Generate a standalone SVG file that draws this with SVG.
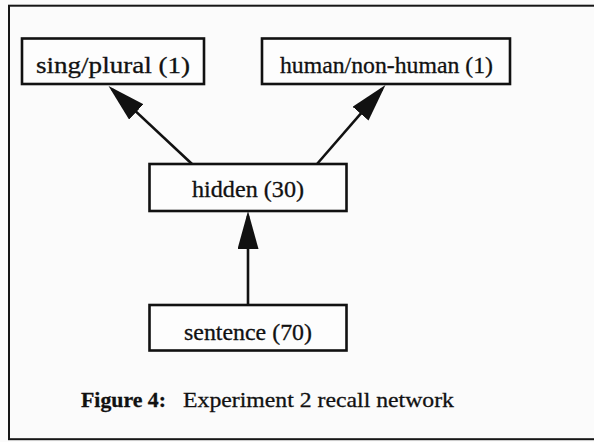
<svg xmlns="http://www.w3.org/2000/svg" width="594" height="442" viewBox="0 0 594 442">
  <defs>
    <style>
      .frame { fill: none; stroke: #161616; stroke-width: 2; }
      .box { fill: #fdfdfd; stroke: #111; stroke-width: 2.6; }
      .label { font-family: "Liberation Serif", "Times New Roman", serif; font-size: 23px; fill: #111; stroke: #111; stroke-width: 0.3; }
      .caption { font-family: "Liberation Serif", "Times New Roman", serif; font-size: 22px; fill: #111; stroke: #111; stroke-width: 0.3; }
      .bold { font-weight: bold; }
      .edge { fill: none; stroke: #111; stroke-width: 2.6; marker-end: url(#head); }
    </style>
    <marker id="head" markerUnits="userSpaceOnUse" markerWidth="40" markerHeight="22" refX="33" refY="10.5" orient="auto">
      <path d="M0,0 L38,10.5 L0,21 Z" fill="#111"/>
    </marker>
  </defs>

  <rect width="594" height="442" fill="#fbfbfb"/>

  <!-- figure frame (right side runs past the page edge) -->
  <rect class="frame" x="9" y="5.7" width="600" height="433.5"/>

  <!-- connectors -->
  <g id="connectors">
    <line class="edge" x1="192" y1="164" x2="112.2" y2="89.4"/>
    <line class="edge" x1="317" y1="164" x2="382.2" y2="88.8"/>
    <line class="edge" x1="248" y1="305" x2="248" y2="216"/>
  </g>

  <g id="sing-plural">
    <rect class="box" x="22" y="38.5" width="182" height="45.5"/>
    <text class="label" x="36" y="73" textLength="154" lengthAdjust="spacingAndGlyphs">sing/plural (1)</text>
  </g>

  <g id="human-nonhuman">
    <rect class="box" x="262" y="38.5" width="248" height="45.5"/>
    <text class="label" x="280" y="73" textLength="213" lengthAdjust="spacingAndGlyphs">human/non-human (1)</text>
  </g>

  <g id="hidden">
    <rect class="box" x="149.5" y="164" width="197" height="47"/>
    <text class="label" x="192" y="197" textLength="112" lengthAdjust="spacingAndGlyphs">hidden (30)</text>
  </g>

  <g id="sentence">
    <rect class="box" x="149.5" y="305" width="197" height="45.5"/>
    <text class="label" x="184" y="339.5" textLength="128" lengthAdjust="spacingAndGlyphs">sentence (70)</text>
  </g>

  <!-- caption -->
  <g id="caption">
    <text class="caption bold" x="81" y="407" textLength="85" lengthAdjust="spacingAndGlyphs">Figure 4:</text>
    <text class="caption" x="183" y="407" textLength="271" lengthAdjust="spacingAndGlyphs">Experiment 2 recall network</text>
  </g>
</svg>
